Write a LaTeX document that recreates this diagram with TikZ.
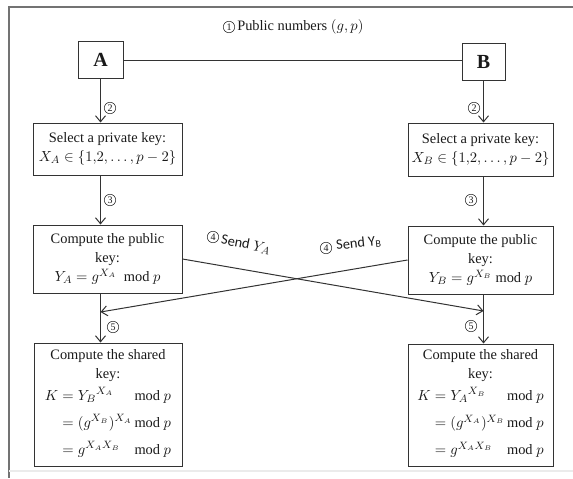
\documentclass[tikz,border=0pt]{standalone}
\usepackage{fontspec}
\setmainfont{Liberation Serif}
\newfontfamily\carlito{Carlito}
\usetikzlibrary{arrows.meta}
\begin{document}
\begin{tikzpicture}[x=0.75pt,y=-0.75pt,
  every node/.style={font=\fontsize{10.8}{14.3}\selectfont, text=black!90},
  box/.style={draw=black!80, line width=0.75pt, align=center, inner sep=0pt},
  conn/.style={draw=black!80, line width=0.75pt},
  arr/.style={conn, -{Straight Barb[length=4.5pt,width=7.5pt,line width=0.75pt]}},
  num/.style={circle, draw=black!80, line width=0.45pt, minimum size=8.6pt, inner sep=0pt,
              font=\fontsize{7.5}{7.5}\selectfont}]
\useasboundingbox (0,0) rectangle (573,478);
\draw[black!55, line width=0.8pt] (573,7) -- (9,7) -- (9,478);
\draw[black!8, line width=0.8pt] (9,471) -- (573,471);

\node[box, minimum width=33.75pt, minimum height=27pt, font=\fontsize{15}{18}\selectfont\bfseries] (A) at (100.5,60) {A};
\node[box, minimum width=32.25pt, minimum height=27pt, font=\fontsize{15}{18}\selectfont\bfseries] (B) at (483.5,62) {B};

\node[box, minimum width=111.75pt, minimum height=39pt] (selA) at (107.5,149)
  {Select a private key:\\ $X_A \in \{1{,}2,\dots,p-2\}$};
\node[box, minimum width=108.75pt, minimum height=39.75pt] (selB) at (480.5,149.5)
  {Select a private key:\\ $X_B \in \{1{,}2,\dots,p-2\}$};

\node[box, minimum width=111.75pt, minimum height=51pt] (compA) at (107.5,259)
  {Compute the public\\ key:\\ $Y_A = g^{X_A}\ \ \mathrm{mod}\ p$};
\node[box, minimum width=108.75pt, minimum height=51pt] (compB) at (480.5,260)
  {Compute the public\\ key:\\ $Y_B = g^{X_B}\ \mathrm{mod}\ p$};

\node[box, minimum width=111pt, minimum height=92.25pt] (shA) at (108,404.5)
  {Compute the shared\\ key:\\[3pt]
   $\begin{array}{@{}r@{\;}l@{\,}l@{}}
     K &= {Y_B}^{X_A} & \mathrm{mod}\ p\\[6pt]
       &= (g^{X_B})^{X_A} & \mathrm{mod}\ p\\[6pt]
       &= g^{X_A X_B} & \mathrm{mod}\ p
   \end{array}$};
\node[box, minimum width=108.75pt, minimum height=91.5pt] (shB) at (480.5,405)
  {Compute the shared\\ key:\\[3pt]
   $\begin{array}{@{}r@{\;}l@{\,}l@{}}
     K &= {Y_A}^{X_B} & \mathrm{mod}\ p\\[6pt]
       &= (g^{X_A})^{X_B} & \mathrm{mod}\ p\\[6pt]
       &= g^{X_A X_B} & \mathrm{mod}\ p
   \end{array}$};

% public line
\draw[conn] (A.east) -- (A.east -| B.west);
\node[num] (n1) at (229,27) {1};
\node[anchor=west, inner sep=0pt] (title) at (237,27) {Public numbers $(g,p)$};

% left column
\draw[arr] (A.south) -- (A.south |- selA.north);
\draw[arr] (A.south |- selA.south) -- (A.south |- compA.north);
\draw[arr] (A.south |- compA.south) -- (A.south |- shA.north);
% right column
\draw[arr] (B.south) -- (B.south |- selB.north);
\draw[arr] (B.south |- selB.south) -- (B.south |- compB.north);
\draw[arr] (B.south |- compB.south) -- (B.south |- shB.north);

% crossing
\coordinate (hitA) at (A.south |- 0,312);
\coordinate (hitB) at (B.south |- 0,311);
\draw[arr] (compA.east) -- (hitB);
\draw[arr] (compB.west) -- (hitA);

% step labels
\node[num] (n2a) at (110,108) {2};
\node[num] (n2b) at (474,108) {2};
\node[num] (n3a) at (110,200) {3};
\node[num] (n3b) at (471,200) {3};
\node[num] (n5a) at (113,327) {5};
\node[num] (n5b) at (471,326) {5};
\node[num] (n4a) at (213,237) {4};
\node[rotate=-11, anchor=west, inner sep=0pt] (sendA) at (221,240) {{\carlito Send} $Y_A$};
\node[num] (n4b) at (326,248) {4};
\node[rotate=6, anchor=west, inner sep=0pt] (sendB) at (336,246) {{\carlito Send Y\textsubscript{B}}};
\end{tikzpicture}
\end{document}
